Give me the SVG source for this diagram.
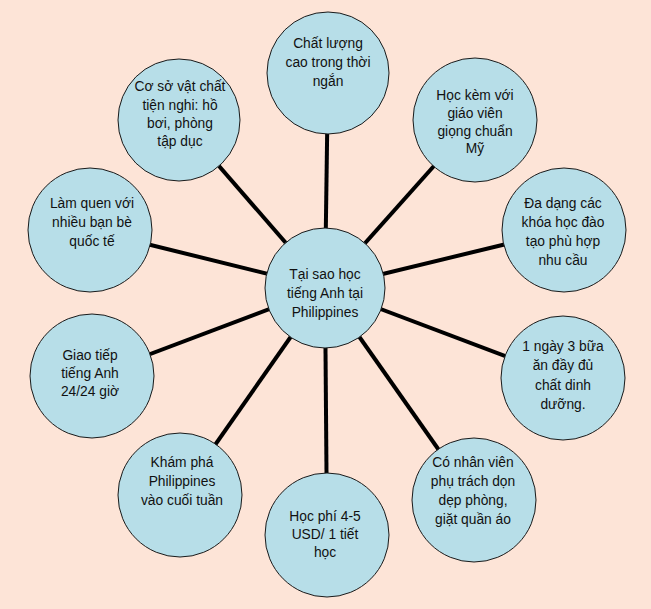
<svg xmlns="http://www.w3.org/2000/svg" width="651" height="609" viewBox="0 0 651 609">
<style>
.bg{fill:#FDE4D7}
.c{fill:#B7DEE8;stroke:#1a1a1a;stroke-width:1}
.l{stroke:#000;stroke-width:4}
text{font-family:"Liberation Sans",Arial,sans-serif;font-size:13.8px;fill:#111;text-anchor:middle}
</style>
<rect class="bg" x="0" y="0" width="651" height="609"/>
<g id="connectors">
<line class="l" x1="325" y1="288" x2="328" y2="73"/>
<line class="l" x1="325" y1="288" x2="179" y2="120"/>
<line class="l" x1="325" y1="288" x2="475" y2="120"/>
<line class="l" x1="325" y1="288" x2="564" y2="230"/>
<line class="l" x1="325" y1="288" x2="563" y2="378"/>
<line class="l" x1="325" y1="288" x2="474" y2="500"/>
<line class="l" x1="325" y1="288" x2="327" y2="535"/>
<line class="l" x1="325" y1="288" x2="180" y2="495"/>
<line class="l" x1="325" y1="288" x2="92" y2="376"/>
<line class="l" x1="325" y1="288" x2="90" y2="230"/>
</g>
<g id="n-top"><circle class="c" cx="328" cy="73" r="61"/>
<text x="328" y="48">Chất lượng</text><text x="328" y="67">cao trong thời</text><text x="328" y="86">ngắn</text></g>
<g id="n-tl"><circle class="c" cx="179" cy="120" r="61"/>
<text x="180" y="91">Cơ sở vật chất</text><text x="180" y="110">tiện nghi: hồ</text><text x="180" y="128">bơi, phòng</text><text x="180" y="146">tập dục</text></g>
<g id="n-tr"><circle class="c" cx="475" cy="120" r="62"/>
<text x="475" y="100">Học kèm với</text><text x="475" y="118">giáo viên</text><text x="475" y="136">giọng chuẩn</text><text x="475" y="153">Mỹ</text></g>
<g id="n-r1"><circle class="c" cx="564" cy="230" r="62"/>
<text x="563" y="208">Đa dạng các</text><text x="563" y="227">khóa học đào</text><text x="563" y="246">tạo phù hợp</text><text x="563" y="265">nhu cầu</text></g>
<g id="n-r2"><circle class="c" cx="563" cy="378" r="62"/>
<text x="563" y="351">1 ngày 3 bữa</text><text x="563" y="370">ăn đầy đủ</text><text x="563" y="390">chất dinh</text><text x="563" y="409">dưỡng.</text></g>
<g id="n-br"><circle class="c" cx="474" cy="500" r="62"/>
<text x="473" y="467">Có nhân viên</text><text x="473" y="486">phụ trách dọn</text><text x="473" y="505">dẹp phòng,</text><text x="473" y="524">giặt quần áo</text></g>
<g id="n-bottom"><circle class="c" cx="327" cy="535" r="62"/>
<text x="325" y="521">Học phí 4-5</text><text x="325" y="539">USD/ 1 tiết</text><text x="325" y="557">học</text></g>
<g id="n-bl"><circle class="c" cx="180" cy="495" r="62"/>
<text x="182" y="467">Khám phá</text><text x="182" y="486">Philippines</text><text x="182" y="505">vào cuối tuần</text></g>
<g id="n-l2"><circle class="c" cx="92" cy="376" r="62"/>
<text x="90" y="360">Giao tiếp</text><text x="90" y="378">tiếng Anh</text><text x="90" y="396">24/24  giờ</text></g>
<g id="n-l1"><circle class="c" cx="90" cy="230" r="62"/>
<text x="92" y="208">Làm quen với</text><text x="92" y="227">nhiều bạn bè</text><text x="92" y="246">quốc tế</text></g>
<g id="n-center"><circle class="c" cx="325" cy="288" r="60"/>
<text x="325" y="279">Tại sao học</text><text x="325" y="298">tiếng Anh tại</text><text x="325" y="317">Philippines</text></g>
</svg>
